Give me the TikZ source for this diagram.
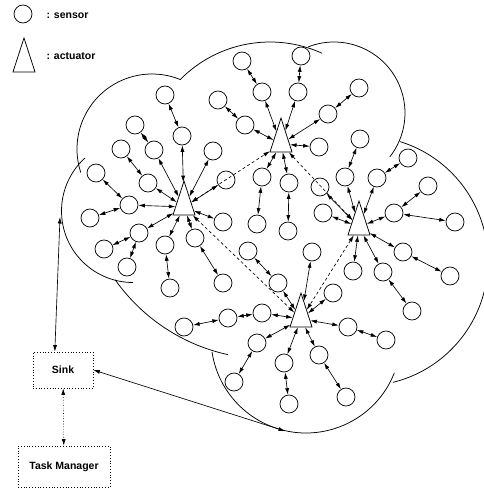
\documentclass[tikz,border=0pt]{standalone}
\usepackage{fontspec}
\setmainfont{Liberation Sans}
\usetikzlibrary{shapes.geometric,arrows.meta}
\begin{document}
\begin{tikzpicture}[x=1pt,y=-1pt,
  sensor/.style={draw, circle, minimum size=18pt, inner sep=0pt, line width=0.75pt},
  actuator/.style={draw, isosceles triangle, shape border rotate=90, isosceles triangle stretches, minimum width=22pt, minimum height=34pt, inner sep=0pt, line width=0.75pt},
  link/.style={{Latex[length=6.5pt,width=4pt]}-{Latex[length=6.5pt,width=4pt]}, line width=0.65pt},
  alink/.style={link, dashed, dash pattern=on 3pt off 2.5pt},
  cloud/.style={line width=0.75pt},
  box/.style={draw, dotted, line width=0.8pt, inner sep=0pt},
  lab/.style={font=\bfseries\fontsize{10.5}{12}\selectfont}
]
\useasboundingbox (0,0) rectangle (483,489);

% legend
\node[sensor] (legS) at (23,14) {};
\node[lab, anchor=west] (legSt) at (43,16) {: sensor};
\node[actuator, anchor=apex] (legA) at (24,37) {};
\node[lab, anchor=west] (legAt) at (43,56) {: actuator};

% cloud
\draw[cloud] (152,149) ++(161.8:75) arc[start angle=161.8, end angle=292.1, radius=75];
\draw[cloud] (270,168) ++(224.4:126) arc[start angle=224.4, end angle=294.3, radius=126];
\draw[cloud] (334,113) ++(248.5:71) arc[start angle=248.5, end angle=398.2, radius=71];
\draw[cloud] (363,261) ++(287.3:125) arc[start angle=287.3, end angle=436.2, radius=125];
\draw[cloud] (306,338) ++(21.5:95) arc[start angle=21.5, end angle=171.5, radius=95];
\draw[cloud] (133,211) ++(227.8:71.5) arc[start angle=227.8, end angle=90, radius=71.5];
\draw[cloud] (268,172) ++(144.8:187) arc[start angle=144.8, end angle=102.3, radius=187];

% actuators
\node[actuator, anchor=apex] (A) at (184,180) {};
\node[actuator, anchor=apex] (B) at (281,117) {};
\node[actuator, anchor=apex] (C) at (359,200) {};
\node[actuator, anchor=apex] (D) at (301,292) {};

% sensors
\foreach \n/\x/\y in {s1/165/95, s2/218/100, s3/135/125, s4/182/136, s5/121/149, s6/154/150,
  s7/213/151, s8/96/173, s9/148/183, s10/226/180, s11/129/205, s12/90/218, s13/223/222,
  s14/139/233, s15/195/238, s16/165/245, s17/104/249, s18/127/267, s19/170/288, s20/223/283,
  s21/242/61, s22/301/56, s23/262/92, s24/298/92, s25/328/114, s26/359/88, s27/245/125,
  s28/319/147, s29/262/177, s30/289/183, s31/320/187, s32/345/177, s33/360/139,
  s34/408/158, s35/377/178, s36/428/186, s37/323/213, s38/394/213, s39/455/222, s40/403/252,
  s41/312/252, s42/353/271, s43/383/272, s44/450/276, s45/333/293, s46/412/311,
  s47/248/251, s48/257/224, s49/288/231,
  s50/278/283, s51/262/313, s52/228/318, s53/184/327, s54/348/327, s55/257/343,
  s56/234/382, s57/284/363, s58/289/404, s59/319/355, s60/346/397, s61/386/340}
  {\node[sensor] (\n) at (\x,\y) {};}

% links to actuators
\foreach \s in {s4,s6,s7,s9,s10,s11,s13,s14,s15,s16} {\draw[link] (\s) -- (A);}
\foreach \s in {s23,s24,s25,s27,s28,s29,s30} {\draw[link] (\s) -- (B);}
\foreach \s in {s31,s32,s35,s37,s38,s40,s42,s43} {\draw[link] (\s) -- (C);}
\foreach \s in {s41,s45,s50,s51,s54,s55,s57,s59} {\draw[link] (\s) -- (D);}

% sensor-sensor links
\foreach \a/\b in {s1/s4, s3/s6, s5/s9, s8/s11, s12/s11, s17/s14, s18/s14, s16/s19, s15/s20, s2/s27,
  s21/s23, s22/s24, s25/s26, s29/s48, s30/s49, s33/s32, s34/s35, s36/s38, s38/s39, s40/s44, s43/s46,
  s47/s50, s52/s51, s53/s52, s61/s54, s56/s55, s58/s57, s60/s59}
  {\draw[link] (\a) -- (\b);}

% actuator-actuator links
\draw[alink] (A) -- (B);
\draw[alink] (B) -- (C);
\draw[alink] (A) -- (D);
\draw[alink] (C) -- (D);

% sink and task manager
\node[box, minimum width=60pt, minimum height=36pt] (sink) at (63,370) {};
\node[lab] (sinkt) at (63,370) {Sink};
\node[box, minimum width=92pt, minimum height=41pt] (tm) at (64,466.5) {};
\node[lab] (tmt) at (64,466.5) {Task Manager};
\coordinate (cl1) at (60,217);
\coordinate (cl2) at (285,431);
\draw[link] (cl1) -- (sink.114);
\draw[link] (sink.east) -- (cl2);
\draw[link, dotted] (sink) -- (tm);
\end{tikzpicture}
\end{document}
